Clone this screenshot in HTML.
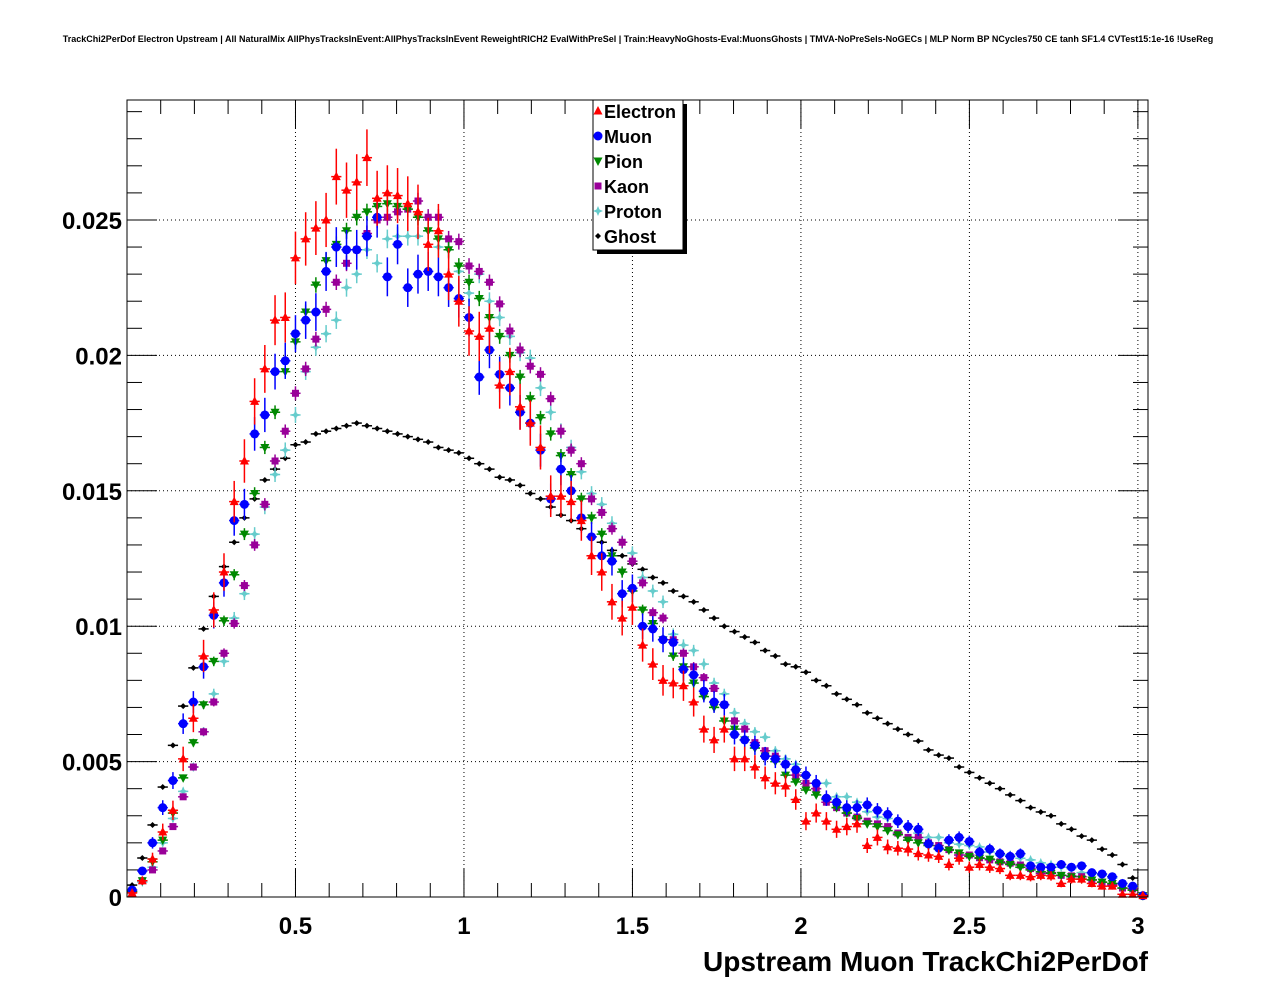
<!DOCTYPE html>
<html><head><meta charset="utf-8"><style>
html,body{margin:0;padding:0;background:#fff;}
svg{display:block;font-family:"Liberation Sans",sans-serif;}
</style></head><body>
<svg id="chart" width="1276" height="996" xmlns="http://www.w3.org/2000/svg">
<rect x="0" y="0" width="1276" height="996" fill="#fff"/>
<text x="638" y="42" text-anchor="middle" font-size="9" font-weight="bold">TrackChi2PerDof Electron Upstream | All NaturalMix AllPhysTracksInEvent:AllPhysTracksInEvent ReweightRICH2 EvalWithPreSel | Train:HeavyNoGhosts-Eval:MuonsGhosts | TMVA-NoPreSels-NoGECs | MLP Norm BP NCycles750 CE tanh SF1.4 CVTest15:1e-16 !UseReg</text>
<g id="grid"></g>
<g id="axes"></g>
<g id="marks"></g>
<rect x="127" y="100" width="1021" height="797" fill="none" stroke="#000" stroke-width="1"/>
<text x="1148" y="971" text-anchor="end" font-size="28" font-weight="bold">Upstream Muon TrackChi2PerDof</text>
<g id="legend"></g>
</svg>
<script>
const binWidth = 0.0303;
const ghost = [0.44,1.44,2.66,4.06,5.6,7.05,8.46,9.9,11.1,12.2,13.1,14.0,14.7,15.4,15.8,16.2,16.7,16.8,17.1,17.2,17.3,17.4,17.5,17.4,17.3,17.2,17.1,17.0,16.9,16.8,16.6,16.5,16.4,16.2,16.0,15.8,15.5,15.4,15.2,14.9,14.7,14.4,14.1,13.9,13.6,13.3,13.1,12.8,12.6,12.3,12.1,11.8,11.6,11.3,11.1,10.9,10.6,10.3,10.0,9.8,9.6,9.4,9.1,8.9,8.6,8.5,8.3,8.0,7.8,7.5,7.3,7.1,6.8,6.6,6.4,6.2,6.0,5.76,5.43,5.24,5.13,4.8,4.6,4.4,4.2,4.0,3.77,3.56,3.3,3.14,3.0,2.7,2.5,2.25,2.1,1.77,1.55,1.2,0.7,0.04];
const electron = [0.15,0.6,1.4,2.4,3.2,5.1,6.6,8.9,10.6,12.0,14.6,16.1,18.3,19.5,21.3,21.4,23.6,24.3,24.7,25.0,26.6,26.1,26.4,27.3,25.8,26.0,25.9,25.6,25.3,24.1,24.6,23.0,22.0,20.9,20.7,21.0,18.9,19.4,18.1,17.5,16.6,14.8,14.8,14.6,13.9,12.6,12.0,10.9,10.3,10.7,9.3,8.6,8.0,7.9,7.8,7.2,6.2,5.8,6.2,5.1,5.1,4.8,4.4,4.2,4.1,3.6,2.8,3.1,2.8,2.5,2.6,2.7,1.9,2.2,1.85,1.8,1.77,1.6,1.55,1.5,1.2,1.43,1.1,1.2,1.1,1.05,0.8,0.8,0.75,0.8,0.78,0.5,0.66,0.66,0.5,0.4,0.4,0.1,0.1,0.05];
const muon = [0.26,0.96,2.0,3.3,4.3,6.4,7.2,8.5,10.4,11.6,13.9,14.5,17.1,17.8,19.4,19.8,20.8,21.3,21.6,23.1,24.0,23.9,23.9,24.4,25.1,22.9,24.1,22.5,23.0,23.1,22.9,22.5,22.1,21.4,19.2,20.2,19.3,18.8,17.9,17.5,16.5,14.7,15.8,15.0,14.0,13.3,12.6,12.4,11.2,11.4,10.0,9.9,9.5,9.4,8.4,8.2,7.6,7.2,7.1,6.0,5.8,5.6,5.2,5.1,4.9,4.7,4.5,4.2,3.65,3.5,3.3,3.3,3.4,3.2,3.05,2.8,2.6,2.5,1.96,1.8,2.1,2.2,2.05,1.66,1.77,1.6,1.5,1.6,1.15,1.1,1.1,1.2,1.1,1.15,0.9,0.85,0.75,0.5,0.4,0.05];
const pion = [0.2,0.6,1.3,2.1,3.1,4.4,5.7,7.1,8.7,10.2,11.9,13.4,14.9,16.6,17.9,19.4,20.5,21.6,22.6,23.5,24.1,24.6,25.1,25.3,25.5,25.6,25.5,25.4,25.1,24.6,24.3,23.9,23.3,22.7,22.1,21.4,20.7,20.0,19.2,18.4,17.7,17.1,16.3,15.6,14.7,14.0,13.4,12.6,12.0,11.3,10.6,10.1,9.5,8.9,8.5,7.9,7.4,7.0,6.5,6.2,5.8,5.5,5.2,5.0,4.5,4.25,3.95,3.77,3.6,3.3,3.1,2.9,2.7,2.6,2.45,2.3,2.1,2.0,1.9,1.77,1.73,1.63,1.5,1.43,1.4,1.26,1.2,1.1,1.0,0.93,0.87,0.8,0.75,0.66,0.63,0.55,0.5,0.33,0.25,0.05];
const kaon = [0.2,0.6,1.0,1.7,2.6,3.7,4.8,6.1,7.2,9.0,10.1,11.5,13.0,14.5,16.1,17.2,18.6,19.5,20.6,21.7,22.7,23.4,23.9,24.5,25.0,25.1,25.3,25.4,25.7,25.1,25.1,24.3,24.2,23.3,23.1,22.7,21.9,20.9,20.2,19.6,19.3,18.4,17.2,16.5,16.0,14.7,14.2,13.6,13.1,12.4,11.6,10.5,10.3,9.5,9.0,8.5,8.1,7.7,7.1,6.5,6.2,5.7,5.4,5.2,4.9,4.5,4.2,4.0,3.5,3.3,3.1,2.95,2.8,2.7,2.6,2.36,2.2,2.2,2.0,1.9,1.75,1.55,1.55,1.45,1.37,1.3,1.25,1.18,1.05,0.87,0.9,0.8,0.78,0.75,0.63,0.55,0.45,0.33,0.3,0.05];
const proton = [0.2,0.55,1.1,2.0,2.9,3.9,4.8,6.1,7.5,8.7,10.3,11.2,13.4,14.4,15.6,16.5,17.8,19.4,20.3,20.8,21.3,22.5,23.0,23.9,23.4,24.3,24.4,24.4,24.4,24.6,24.0,23.9,23.1,22.3,23.0,22.0,21.4,20.7,20.1,19.9,18.8,17.9,17.2,16.6,15.7,14.9,14.5,13.8,13.1,12.7,11.8,11.3,10.9,9.7,9.3,9.1,8.6,7.9,7.5,6.8,6.4,6.1,5.9,5.4,5.1,4.9,4.5,4.2,4.2,3.7,3.7,3.5,3.15,2.95,2.9,2.75,2.6,2.36,2.2,2.2,2.0,1.95,1.9,1.85,1.66,1.55,1.55,1.43,1.37,1.26,1.2,1.1,1.05,0.9,0.87,0.8,0.7,0.5,0.4,0.05];
const xTickLabels = ["0.5","1","1.5","2","2.5","3"];
const xTickValues = [0.5,1,1.5,2,2.5,3];
const yTickLabels = ["0","0.005","0.01","0.015","0.02","0.025"];
const yTickValues = [0,0.005,0.01,0.015,0.02,0.025];
const legendNames = ["Electron","Muon","Pion","Kaon","Proton","Ghost"];

const NS="http://www.w3.org/2000/svg";
const X0=127,X1=1148,Y0=897,Y1=100;
const xmin=0,xmax=3.03,ymin=0,ymax=0.02943;
const sx=v=>X0+(v-xmin)/(xmax-xmin)*(X1-X0);
const sy=v=>Y0-(v-ymin)/(ymax-ymin)*(Y0-Y1);
function mk(tag,attrs,parent){const e=document.createElementNS(NS,tag);for(const k in attrs)e.setAttribute(k,attrs[k]);parent.appendChild(e);return e;}
const grid=document.getElementById('grid'),axes=document.getElementById('axes'),marks=document.getElementById('marks'),legend=document.getElementById('legend');

xTickValues.forEach((v,i)=>{
  const g=mk('line',{x1:sx(v),x2:sx(v),y1:Y1,y2:Y0,stroke:'#000','stroke-dasharray':'1,3','stroke-width':1},grid);
  
  
  const t=mk('text',{x:sx(v),y:934,'text-anchor':'middle','font-size':24,'font-weight':'bold'},axes);
  t.textContent=xTickLabels[i];
  
  
});
yTickValues.forEach((v,i)=>{
  if(v>0){const g=mk('line',{x1:X0,x2:X1,y1:sy(v),y2:sy(v),stroke:'#000','stroke-dasharray':'1,3','stroke-width':1},grid);
  
  }
  const t=mk('text',{x:122,y:sy(v)+9,'text-anchor':'end','font-size':24,'font-weight':'bold'},axes);
  t.textContent=yTickLabels[i];
  
  
});
for(let k=1;k<=30;k++){const v=k*0.1;const L=(k%5==0)?28:14;
  mk('line',{x1:sx(v),x2:sx(v),y1:Y0,y2:Y0-L,stroke:'#000'},axes);
  mk('line',{x1:sx(v),x2:sx(v),y1:Y1,y2:Y1+L,stroke:'#000'},axes);}
for(let k=1;k<=29;k++){const v=k*0.001;const L=(k%5==0)?30:15;
  mk('line',{x1:X0,x2:X0+L,y1:sy(v),y2:sy(v),stroke:'#000'},axes);
  mk('line',{x1:X1,x2:X1-L,y1:sy(v),y2:sy(v),stroke:'#000'},axes);}

function marker(type,color,cx,cy,parent){
  if(type==='tri')return mk('polygon',{points:`${cx},${cy-5} ${cx-4.5},${cy+3.5} ${cx+4.5},${cy+3.5}`,fill:color},parent);
  if(type==='circ')return mk('circle',{cx,cy,r:4.5,fill:color},parent);
  if(type==='tdown')return mk('polygon',{points:`${cx},${cy+5} ${cx-4.5},${cy-3.5} ${cx+4.5},${cy-3.5}`,fill:color},parent);
  if(type==='sq')return mk('rect',{x:cx-3.5,y:cy-3.5,width:7,height:7,fill:color},parent);
  if(type==='star')return mk('path',{d:`M${cx-5},${cy}L${cx-1.5},${cy-1.5}L${cx},${cy-5}L${cx+1.5},${cy-1.5}L${cx+5},${cy}L${cx+1.5},${cy+1.5}L${cx},${cy+5}L${cx-1.5},${cy+1.5}Z`,fill:color},parent);
  return mk('path',{d:`M${cx-3},${cy}L${cx},${cy-3}L${cx+3},${cy}L${cx},${cy+3}Z`,fill:color},parent);
}
const series=[
  {name:'ghost',vals:ghost,color:'#000',type:'dia',k:0.02},
  {name:'proton',vals:proton,color:'#66cccc',type:'star',k:0.07},
  {name:'kaon',vals:kaon,color:'#990099',type:'sq',k:0.06},
  {name:'pion',vals:pion,color:'#008800',type:'tdown',k:0.06},
  {name:'muon',vals:muon,color:'#0000ff',type:'circ',k:0.15},
  {name:'electron',vals:electron,color:'#ff0000',type:'tri',k:0.2}
];
series.forEach(s=>{
  const g=mk('g',{},marks);
  
  
  s.vals.forEach((v,i)=>{
    const xc=(i+0.5)*binWidth, y=v*1e-3, e=s.k*Math.sqrt(v)*1e-3;
    mk('line',{x1:sx(xc-binWidth/2),x2:sx(xc+binWidth/2),y1:sy(y),y2:sy(y),stroke:s.color,'stroke-width':1.5},g);
    if(e>0.0001)mk('line',{x1:sx(xc),x2:sx(xc),y1:sy(y-e),y2:sy(y+e),stroke:s.color,'stroke-width':1.5},g);
    const m=marker(s.type,s.color,sx(xc),sy(y),g);
    
    
  });
});
mk('rect',{x:597,y:104,width:90,height:150,fill:'#000'},legend);
const box=mk('rect',{x:593,y:100,width:90,height:150,fill:'#fff',stroke:'#000'},legend);


const legTypes=[['tri','#ff0000'],['circ','#0000ff'],['tdown','#008800'],['sq','#990099'],['star','#66cccc'],['dia','#000']];
legendNames.forEach((n,i)=>{
  const yy=111+i*25;
  const g=mk('g',{},legend);
  
  
  marker(legTypes[i][0],legTypes[i][1],598,yy,g);
  const t=mk('text',{x:604,y:yy+7,'font-size':18,'font-weight':'bold'},g);
  t.textContent=n;
});
</script>
</body></html>
